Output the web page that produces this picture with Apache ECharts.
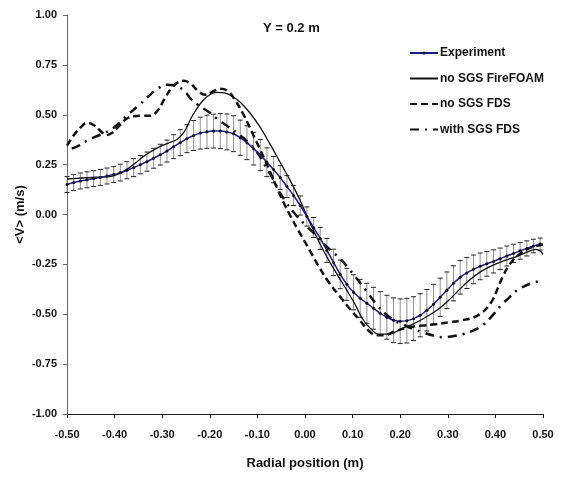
<!DOCTYPE html>
<html>
<head>
<meta charset="utf-8">
<script src="https://cdn.jsdelivr.net/npm/echarts@6/dist/echarts.min.js"></script>
<style>html,body{margin:0;padding:0;background:#fff;}#c{width:566px;height:479px;}</style>
</head>
<body>
<div id="c"></div>
<script>
// ---- Data ----
const xTicks = [-0.5, -0.4, -0.3, -0.2, -0.1, 0, 0.1, 0.2, 0.3, 0.4, 0.5];
const yTicks = [-1, -0.75, -0.5, -0.25, 0, 0.25, 0.5, 0.75, 1];

const expX = [-0.500,-0.486,-0.472,-0.458,-0.444,-0.430,-0.416,-0.402,-0.388,-0.374,-0.360,-0.346,-0.332,-0.318,-0.304,-0.290,-0.276,-0.262,-0.248,-0.234,-0.220,-0.206,-0.192,-0.178,-0.164,-0.150,-0.136,-0.122,-0.108,-0.094,-0.080,-0.066,-0.052,-0.038,-0.024,-0.010,0.004,0.018,0.032,0.046,0.060,0.074,0.088,0.102,0.116,0.130,0.144,0.158,0.172,0.186,0.200,0.214,0.228,0.242,0.256,0.270,0.284,0.298,0.312,0.326,0.340,0.354,0.368,0.382,0.396,0.410,0.424,0.438,0.452,0.466,0.480,0.494];
const expY = [0.150,0.160,0.168,0.174,0.180,0.186,0.193,0.200,0.210,0.222,0.235,0.250,0.265,0.282,0.300,0.318,0.340,0.360,0.380,0.396,0.408,0.415,0.418,0.418,0.414,0.405,0.385,0.360,0.330,0.298,0.262,0.225,0.185,0.140,0.095,0.045,-0.010,-0.065,-0.120,-0.180,-0.240,-0.300,-0.350,-0.390,-0.420,-0.445,-0.470,-0.495,-0.515,-0.530,-0.535,-0.532,-0.522,-0.505,-0.480,-0.450,-0.415,-0.380,-0.345,-0.315,-0.293,-0.275,-0.260,-0.247,-0.235,-0.222,-0.208,-0.195,-0.182,-0.170,-0.158,-0.148];
const expErr = [0.040,0.040,0.040,0.040,0.040,0.040,0.040,0.040,0.042,0.043,0.045,0.046,0.048,0.050,0.052,0.055,0.060,0.065,0.070,0.075,0.080,0.083,0.085,0.088,0.090,0.090,0.088,0.085,0.082,0.078,0.072,0.066,0.060,0.055,0.050,0.048,0.048,0.050,0.055,0.060,0.066,0.072,0.080,0.088,0.095,0.100,0.105,0.108,0.110,0.112,0.112,0.112,0.110,0.108,0.104,0.100,0.096,0.092,0.088,0.084,0.078,0.072,0.067,0.062,0.058,0.054,0.050,0.046,0.042,0.038,0.034,0.030];

const foamX = [-0.5,-0.47,-0.44,-0.41,-0.39,-0.375,-0.355,-0.34,-0.32,-0.305,-0.285,-0.27,-0.26,-0.25,-0.24,-0.23,-0.215,-0.2,-0.185,-0.17,-0.155,-0.137,-0.116,-0.095,-0.074,-0.053,-0.032,-0.01,0.01,0.03,0.05,0.07,0.088,0.105,0.12,0.137,0.155,0.175,0.205,0.23,0.254,0.28,0.302,0.325,0.345,0.37,0.394,0.42,0.443,0.465,0.485,0.495,0.5];
const foamY = [0.178,0.183,0.187,0.19,0.205,0.225,0.26,0.29,0.32,0.34,0.36,0.375,0.395,0.43,0.48,0.52,0.57,0.60,0.612,0.61,0.595,0.565,0.51,0.44,0.355,0.265,0.175,0.07,-0.04,-0.14,-0.23,-0.31,-0.38,-0.45,-0.52,-0.57,-0.6,-0.6,-0.57,-0.545,-0.515,-0.475,-0.43,-0.375,-0.33,-0.285,-0.255,-0.23,-0.212,-0.19,-0.175,-0.185,-0.2];

const fdsX = [-0.5,-0.485,-0.47,-0.458,-0.445,-0.43,-0.418,-0.405,-0.39,-0.375,-0.36,-0.34,-0.325,-0.31,-0.295,-0.28,-0.265,-0.255,-0.24,-0.225,-0.21,-0.195,-0.178,-0.163,-0.15,-0.13,-0.11,-0.095,-0.078,-0.06,-0.045,-0.03,-0.014,0.01,0.03,0.05,0.073,0.095,0.115,0.135,0.15,0.165,0.19,0.218,0.245,0.275,0.305,0.33,0.355,0.373,0.385,0.395,0.405,0.415,0.43,0.45,0.47,0.49,0.5];
const fdsY = [0.345,0.40,0.44,0.46,0.45,0.42,0.398,0.41,0.445,0.48,0.492,0.495,0.495,0.52,0.58,0.635,0.665,0.67,0.655,0.62,0.60,0.615,0.63,0.62,0.585,0.505,0.405,0.33,0.24,0.14,0.06,-0.01,-0.08,-0.18,-0.265,-0.34,-0.41,-0.475,-0.53,-0.585,-0.605,-0.605,-0.585,-0.565,-0.557,-0.55,-0.54,-0.53,-0.515,-0.49,-0.46,-0.425,-0.37,-0.314,-0.25,-0.2,-0.17,-0.155,-0.15];

const sgsX = [-0.49,-0.475,-0.458,-0.44,-0.42,-0.405,-0.39,-0.37,-0.35,-0.33,-0.31,-0.29,-0.275,-0.262,-0.25,-0.24,-0.225,-0.2,-0.185,-0.165,-0.13,-0.1,-0.085,-0.07,-0.055,-0.038,-0.02,0.0,0.017,0.045,0.073,0.095,0.128,0.15,0.17,0.19,0.205,0.225,0.247,0.27,0.289,0.31,0.331,0.355,0.373,0.394,0.41,0.43,0.445,0.457,0.475,0.49,0.5];
const sgsY = [0.33,0.345,0.37,0.39,0.41,0.43,0.46,0.505,0.545,0.59,0.63,0.65,0.648,0.635,0.61,0.58,0.55,0.51,0.48,0.446,0.385,0.31,0.25,0.19,0.12,0.055,0.0,-0.05,-0.09,-0.16,-0.22,-0.28,-0.38,-0.45,-0.5,-0.535,-0.55,-0.572,-0.59,-0.607,-0.615,-0.61,-0.6,-0.58,-0.556,-0.506,-0.46,-0.414,-0.38,-0.364,-0.345,-0.335,-0.33];

const names = ['Experiment', 'no SGS FireFOAM', 'no SGS FDS', 'with SGS FDS'];

// ---- Build chart ----
const zip = (xs, ys) => xs.map((x, i) => [x, ys[i]]);
const FONT = '"Liberation Sans", Arial, sans-serif';
const fmt2 = v => (Math.abs(v) < 1e-9 ? 0 : v).toFixed(2);

const chart = echarts.init(document.getElementById('c'), null, {renderer: 'canvas'});
chart.setOption({
  animation: false,
  backgroundColor: '#fff',
  title: {
    text: 'Y = 0.2 m', left: 263, top: 22, padding: 0,
    textStyle: {fontFamily: FONT, fontSize: 13, fontWeight: 'bold', color: '#111'}
  },
  legend: {
    data: [
      {name: names[0], itemStyle: {color: '#111'}},
      {name: names[1], itemStyle: {opacity: 0}},
      {name: names[2], itemStyle: {opacity: 0}},
      {name: names[3], itemStyle: {opacity: 0}}
    ],
    orient: 'vertical', left: 409, top: 46, padding: 0,
    itemWidth: 28, itemHeight: 4, itemGap: 11.5,
    textStyle: {fontFamily: FONT, fontSize: 12, fontWeight: 'bold', color: '#111', padding: [0, 0, 0, -3], lineHeight: 14}
  },
  grid: {left: 67, right: 23, top: 15, bottom: 65, containLabel: false},
  xAxis: {
    type: 'value', min: -0.5, max: 0.5, interval: 0.1,
    name: 'Radial position (m)', nameLocation: 'middle', nameGap: 43, nameMoveOverlap: false,
    nameTextStyle: {fontFamily: FONT, fontSize: 13, fontWeight: 'bold', color: '#111'},
    axisLine: {show: true, onZero: false, lineStyle: {color: '#222', width: 1}},
    axisTick: {show: true, length: 4, lineStyle: {color: '#222'}},
    axisLabel: {margin: 15, fontFamily: FONT, fontSize: 11, fontWeight: 'bold', color: '#111', formatter: fmt2},
    splitLine: {show: false}
  },
  yAxis: {
    type: 'value', min: -1, max: 1, interval: 0.25,
    name: '<V> (m/s)', nameLocation: 'middle', nameGap: 40, nameMoveOverlap: false,
    nameTextStyle: {fontFamily: FONT, fontSize: 13, fontWeight: 'bold', color: '#111'},
    axisLine: {show: true, onZero: false, lineStyle: {color: '#666', width: 1}},
    axisTick: {show: true, length: 4, lineStyle: {color: '#666'}},
    axisLabel: {margin: 10, fontFamily: FONT, fontSize: 11, fontWeight: 'bold', color: '#111', formatter: fmt2},
    splitLine: {show: false}
  },
  series: [
    {
      name: 'errbars', type: 'custom', z: 1, silent: true,
      data: expX.map((x, i) => [x, expY[i], expErr[i]]),
      encode: {x: 0, y: 1},
      renderItem: function (params, api) {
        const x = api.value(0), y = api.value(1), e = api.value(2);
        const t = api.coord([x, y + e]);
        const b = api.coord([x, y - e]);
        const hw = 2.5;
        return {
          type: 'group',
          children: [
            {type: 'line', shape: {x1: t[0], y1: t[1], x2: b[0], y2: b[1]}, style: {stroke: '#8f8f8f', lineWidth: 1}},
            {type: 'line', shape: {x1: t[0] - hw, y1: t[1], x2: t[0] + hw, y2: t[1]}, style: {stroke: '#222', lineWidth: 1}},
            {type: 'line', shape: {x1: b[0] - hw, y1: b[1], x2: b[0] + hw, y2: b[1]}, style: {stroke: '#222', lineWidth: 1}}
          ]
        };
      }
    },
    {
      name: names[0], type: 'line', z: 5, data: zip(expX, expY), smooth: 0.3,
      symbol: 'circle', symbolSize: 3, showSymbol: true,
      itemStyle: {color: '#111'},
      lineStyle: {color: '#1c1c8a', width: 1.5}
    },
    {
      name: names[1], type: 'line', z: 4, data: zip(foamX, foamY), smooth: 0.4,
      symbol: 'none', itemStyle: {color: '#111'},
      lineStyle: {color: '#111', width: 1.3}
    },
    {
      name: names[2], type: 'line', z: 3, data: zip(fdsX, fdsY), smooth: 0.4,
      symbol: 'none', itemStyle: {color: '#111'},
      lineStyle: {color: '#111', width: 2.5, type: [7, 4]}
    },
    {
      name: names[3], type: 'line', z: 3, data: zip(sgsX, sgsY), smooth: 0.4,
      symbol: 'none', itemStyle: {color: '#111'},
      lineStyle: {color: '#111', width: 2.5, type: [9, 6, 2, 6]}
    }
  ]
});
</script>
</body>
</html>
